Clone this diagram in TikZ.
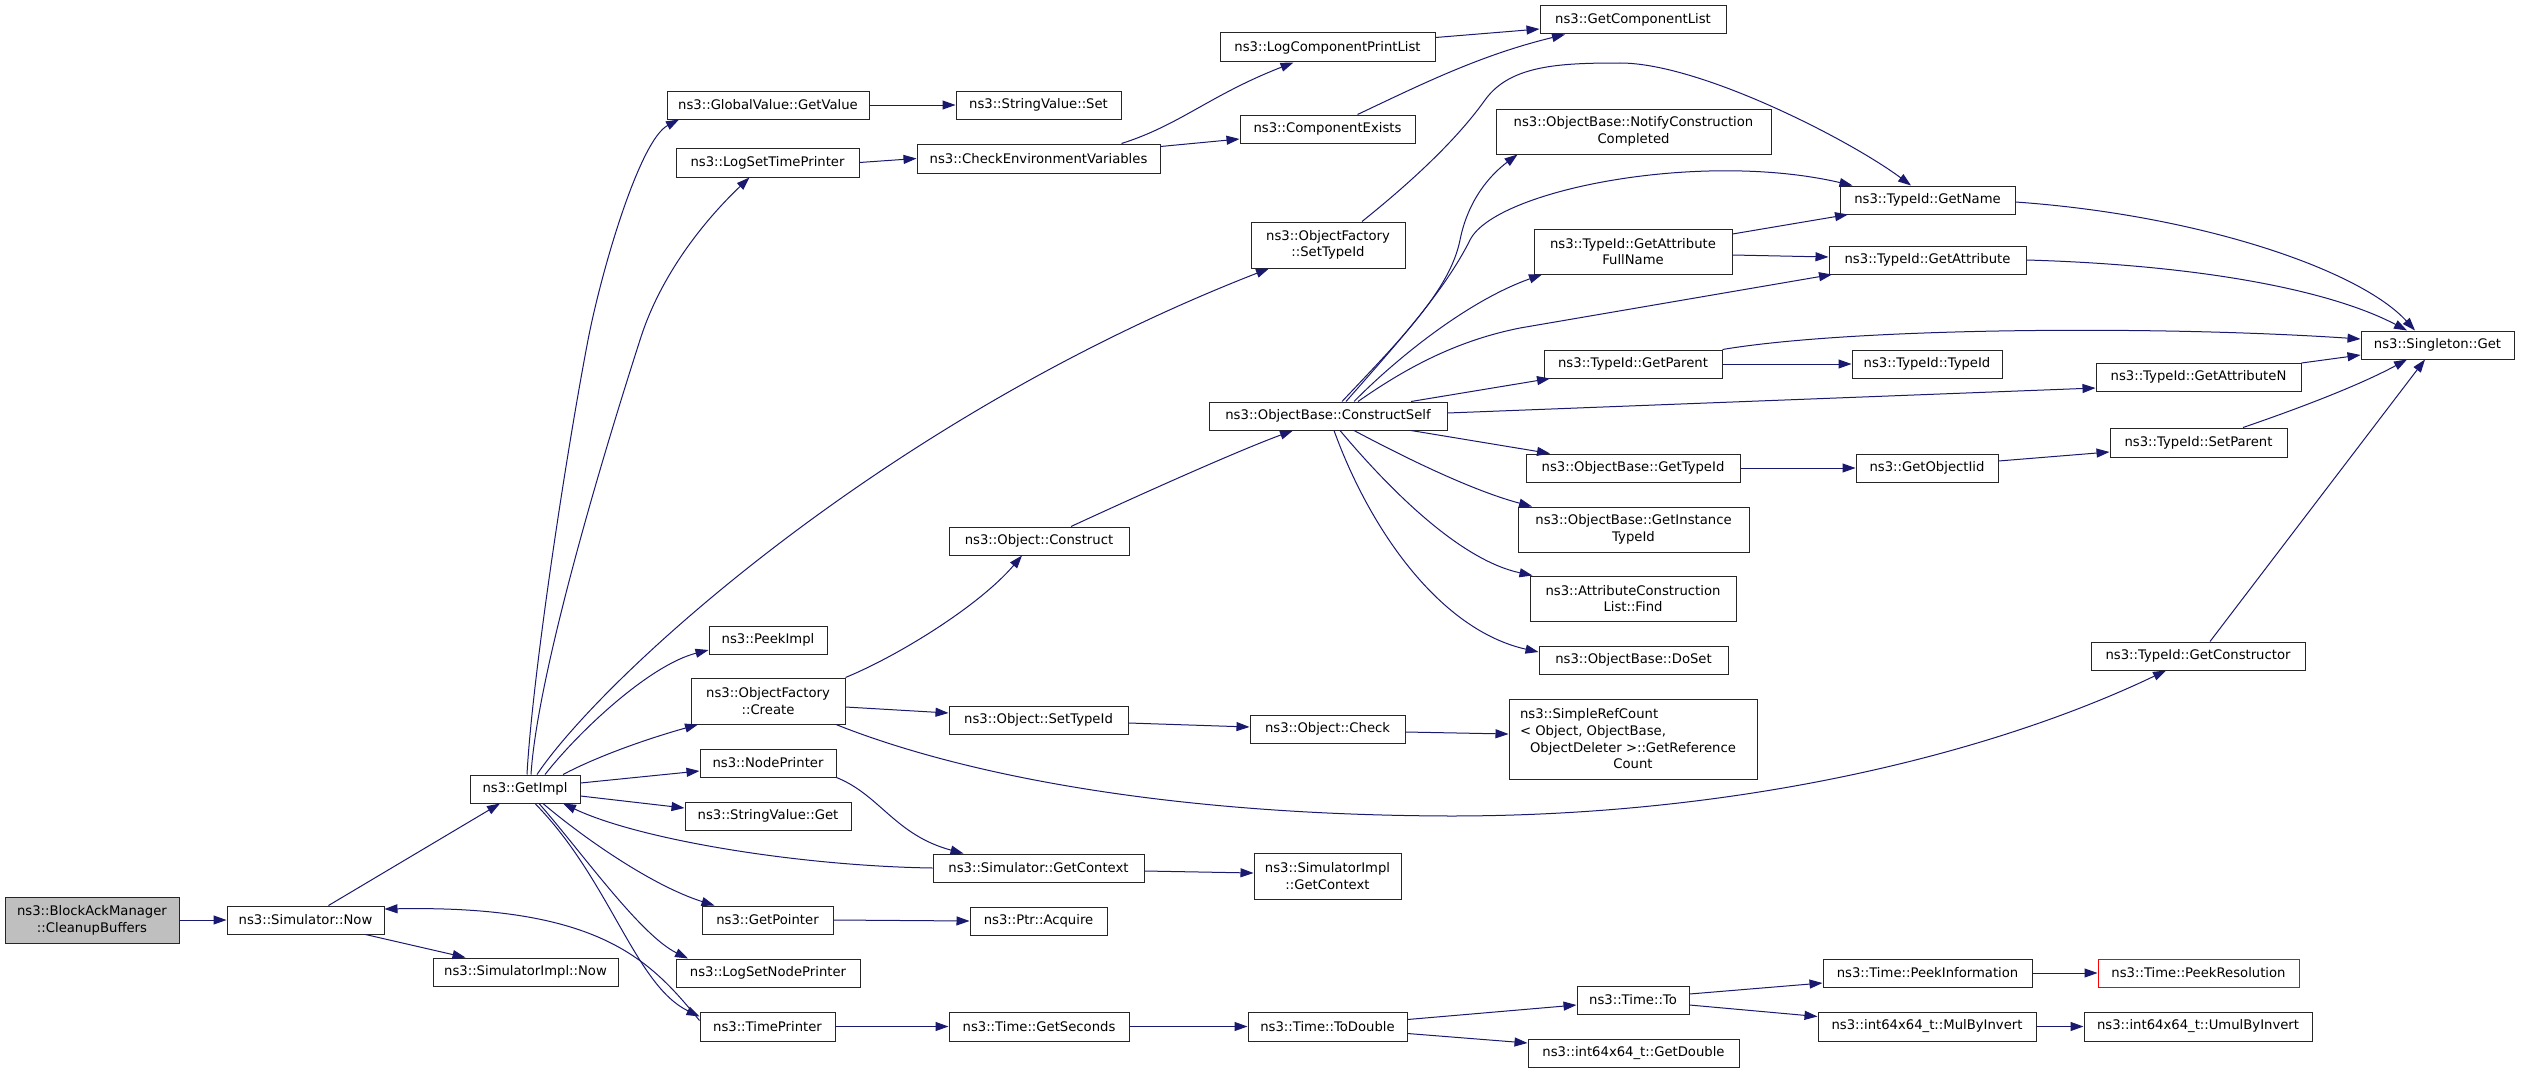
\documentclass[tikz,border=0pt]{standalone}
\usepackage{fontspec}
\setmainfont{DejaVu Sans}
\usetikzlibrary{arrows.meta}
\definecolor{edgecol}{HTML}{191970}
\definecolor{grayfill}{HTML}{BFBFBF}
\newcommand\bx[7][]{%
 \pgfmathsetmacro\bxw{#5-#3}\pgfmathsetmacro\bxh{#6-#4}%
 \pgfmathsetmacro\bxx{(#3+#5)/2}\pgfmathsetmacro\bxy{(#4+#6)/2}%
 \node[box,#1,minimum width=\bxw pt,minimum height=\bxh pt] (#2) at (\bxx,\bxy) {#7};}
\begin{document}
\begin{tikzpicture}[x=1pt,y=-1pt,
 box/.style={draw=black!85,fill=white,line width=1pt,inner sep=0pt,align=center,font=\fontsize{13.2}{16.7}\selectfont},
 e/.style={draw=edgecol,line width=1pt,-{Triangle[length=13pt,width=9pt]}}]
\fill[white] (0,0) rectangle (2523,1073);
\useasboundingbox (0,0) rectangle (2523,1073);
% nodes
\bx[fill=grayfill]{bam}{5}{897}{179}{943}{ns3::BlockAckManager\\::CleanupBuffers}
\bx{snow}{227}{906}{384}{934}{ns3::Simulator::Now}
\bx{gimpl}{470}{775}{580}{803}{ns3::GetImpl}
\bx{simpnow}{433}{958}{618}{986}{ns3::SimulatorImpl::Now}
\bx{gvget}{667}{91}{869}{119}{ns3::GlobalValue::GetValue}
\bx{svset}{956}{91}{1121}{119}{ns3::StringValue::Set}
\bx{lstp}{676}{148}{859}{177}{ns3::LogSetTimePrinter}
\bx{cev}{917}{144}{1160}{173}{ns3::CheckEnvironmentVariables}
\bx{lcpl}{1220}{33}{1435}{62}{ns3::LogComponentPrintList}
\bx{gcl}{1540}{6}{1726}{34}{ns3::GetComponentList}
\bx{cex}{1240}{115}{1415}{143}{ns3::ComponentExists}
\bx{ofst}{1251}{222}{1405}{268}{ns3::ObjectFactory\\::SetTypeId}
\bx{ncc}{1496}{109}{1771}{154}{ns3::ObjectBase::NotifyConstruction\\Completed}
\bx{gafn}{1534}{229}{1732}{274}{ns3::TypeId::GetAttribute\\FullName}
\bx{gname}{1840}{186}{2015}{214}{ns3::TypeId::GetName}
\bx{gattr}{1829}{246}{2026}{274}{ns3::TypeId::GetAttribute}
\bx{sget}{2361}{331}{2514}{359}{ns3::Singleton::Get}
\bx{gpar}{1544}{350}{1722}{378}{ns3::TypeId::GetParent}
\bx{tid}{1852}{350}{2002}{378}{ns3::TypeId::TypeId}
\bx{gattrn}{2096}{363}{2301}{391}{ns3::TypeId::GetAttributeN}
\bx{cself}{1209}{402}{1447}{430}{ns3::ObjectBase::ConstructSelf}
\bx{obgtid}{1526}{454}{1740}{482}{ns3::ObjectBase::GetTypeId}
\bx{goiid}{1856}{454}{1998}{482}{ns3::GetObjectIid}
\bx{spar}{2110}{428}{2287}{457}{ns3::TypeId::SetParent}
\bx{gitid}{1518}{507}{1749}{552}{ns3::ObjectBase::GetInstance\\TypeId}
\bx{acl}{1530}{576}{1736}{621}{ns3::AttributeConstruction\\List::Find}
\bx{doset}{1539}{646}{1728}{674}{ns3::ObjectBase::DoSet}
\bx{gctor}{2091}{642}{2305}{670}{ns3::TypeId::GetConstructor}
\bx{ocons}{949}{527}{1129}{555}{ns3::Object::Construct}
\bx{peek}{709}{626}{827}{654}{ns3::PeekImpl}
\bx{ofc}{691}{678}{845}{724}{ns3::ObjectFactory\\::Create}
\bx{ostid}{949}{706}{1128}{734}{ns3::Object::SetTypeId}
\bx{ochk}{1250}{715}{1405}{743}{ns3::Object::Check}
\bx{src}{1509}{699}{1757}{779}{\makebox[226pt][l]{ns3::SimpleRefCount}\\\makebox[226pt][l]{< Object, ObjectBase,}\\ObjectDeleter >::GetReference\\Count}
\bx{nprn}{700}{749}{836}{777}{ns3::NodePrinter}
\bx{svget}{685}{802}{851}{830}{ns3::StringValue::Get}
\bx{sgctx}{933}{854}{1144}{882}{ns3::Simulator::GetContext}
\bx{sigctx}{1254}{853}{1401}{899}{ns3::SimulatorImpl\\::GetContext}
\bx{gptr}{702}{906}{833}{934}{ns3::GetPointer}
\bx{acq}{970}{907}{1107}{935}{ns3::Ptr::Acquire}
\bx{lsnp}{676}{959}{860}{987}{ns3::LogSetNodePrinter}
\bx{tprn}{700}{1012}{835}{1041}{ns3::TimePrinter}
\bx{gsec}{949}{1012}{1129}{1041}{ns3::Time::GetSeconds}
\bx{todbl}{1248}{1012}{1407}{1041}{ns3::Time::ToDouble}
\bx{to}{1577}{986}{1689}{1014}{ns3::Time::To}
\bx{gdbl}{1528}{1039}{1739}{1067}{ns3::int64x64\_t::GetDouble}
\bx{pinfo}{1823}{959}{2032}{987}{ns3::Time::PeekInformation}
\bx[draw=red]{pres}{2098}{959}{2299}{987}{ns3::Time::PeekResolution}
\bx{mbi}{1818}{1012}{2036}{1041}{ns3::int64x64\_t::MulByInvert}
\bx{umbi}{2084}{1012}{2312}{1041}{ns3::int64x64\_t::UmulByInvert}
% edges
\draw[e] (bam.east) -- (snow.west);
\draw[e] ([xshift=23pt]snow.north) -- ([xshift=-25pt]gimpl.south);
\draw[e] ([xshift=60pt]snow.south) -- ([xshift=-60pt]simpnow.north);
\draw[e] ([xshift=2pt]gimpl.north) .. controls (532,680) and (565,460) .. (588,340) .. controls (602,268) and (640,140) .. ([xshift=-89pt]gvget.south);
\draw[e] ([xshift=6pt]gimpl.north) .. controls (537,680) and (595,480) .. (640,340) .. controls (662,270) and (710,215) .. ([xshift=-18pt]lstp.south);
\draw[e] ([xshift=12pt]gimpl.north) .. controls (600,680) and (880,420) .. ([xshift=-59pt]ofst.south);
\draw[e] ([xshift=20pt]gimpl.north) .. controls (580,730) and (650,665) .. ([yshift=-10pt]peek.west);
\draw[e] ([xshift=38pt]gimpl.north) .. controls (600,755) and (650,738) .. ([xshift=-70pt]ofc.south);
\draw[e] ([yshift=6pt]gimpl.east) -- ([yshift=-8pt]nprn.west);
\draw[e] ([yshift=-7pt]gimpl.east) -- ([yshift=8pt]svget.west);
\draw[e] (sgctx.west) .. controls (800,866) and (640,840) .. ([xshift=38pt]gimpl.south);
\draw[e] ([xshift=18pt]gimpl.south) .. controls (580,835) and (650,885) .. ([xshift=-53pt]gptr.north);
\draw[e] ([xshift=14pt]gimpl.south) .. controls (580,850) and (640,935) .. ([xshift=-80pt]lsnp.north);
\draw[e] ([xshift=10pt]gimpl.south) .. controls (610,880) and (635,985) .. ([yshift=10pt]tprn.west);
\draw[e] ([yshift=6pt]tprn.west) .. controls (650,960) and (600,905) .. ([yshift=11pt]snow.east);
\draw[e] (ofc.north east) .. controls (900,655) and (980,605) .. ([xshift=-17pt]ocons.south);
\draw[e] ([yshift=-6pt]ofc.east) -- ([yshift=7pt]ostid.west);
\draw[e] ([xshift=68pt]ofc.south) .. controls (950,770) and (1150,815) .. (1450,816) .. controls (1750,816) and (2000,750) .. ([xshift=-32pt]gctor.south);
\draw[e] ([yshift=-3pt]ostid.east) -- ([yshift=2pt]ochk.west);
\draw[e] ([yshift=-3pt]ochk.east) -- ([yshift=5pt]src.west);
\draw[e] (nprn.south east) .. controls (880,795) and (895,835) .. ([xshift=-75pt]sgctx.north);
\draw[e] ([yshift=-3pt]sgctx.east) -- ([yshift=3pt]sigctx.west);
\draw[e] (gptr.east) -- (acq.west);
\draw[e] (tprn.east) -- (gsec.west);
\draw[e] (gsec.east) -- (todbl.west);
\draw[e] ([yshift=7pt]todbl.east) -- ([yshift=-5pt]to.west);
\draw[e] ([yshift=-7pt]todbl.east) -- ([yshift=10pt]gdbl.west);
\draw[e] ([yshift=6pt]to.east) -- ([yshift=-10pt]pinfo.west);
\draw[e] ([yshift=-5pt]to.east) -- ([yshift=10pt]mbi.west);
\draw[e] (pinfo.east) -- (pres.west);
\draw[e] (mbi.east) -- (umbi.west);
\draw[e] ([xshift=32pt]ocons.north) .. controls (1150,490) and (1240,450) .. ([xshift=-35pt]cself.south);
\draw[e] (gvget.east) -- (svset.west);
\draw[e] (lstp.east) -- (cev.west);
\draw[e] ([xshift=83pt]cev.north) .. controls (1180,125) and (1210,95) .. ([xshift=-34pt]lcpl.south);
\draw[e] ([yshift=12pt]cev.east) -- ([yshift=-10pt]cex.west);
\draw[e] ([yshift=10pt]lcpl.east) -- ([yshift=-9pt]gcl.west);
\draw[e] ([xshift=30pt]cex.north) .. controls (1420,85) and (1480,55) .. ([xshift=-68pt]gcl.south);
\draw[e] ([xshift=34pt]ofst.north) .. controls (1420,175) and (1460,135) .. (1485,100) .. controls (1510,65) and (1560,63) .. (1620,63) .. controls (1700,63) and (1850,140) .. ([xshift=-16.5pt]gname.north);
\draw[e] ([xshift=14pt]cself.north) .. controls (1400,340) and (1450,290) .. (1460,240) .. controls (1468,200) and (1490,175) .. ([xshift=-116pt]ncc.south);
\draw[e] ([xshift=18pt]cself.north) .. controls (1400,340) and (1445,290) .. (1470,240) .. controls (1495,190) and (1700,150) .. ([xshift=-75pt]gname.north);
\draw[e] ([xshift=26pt]cself.north) .. controls (1400,355) and (1470,300) .. ([xshift=-91pt]gafn.south);
\draw[e] ([xshift=30pt]cself.north) .. controls (1410,365) and (1460,340) .. (1520,328) -- ([xshift=-95.5pt]gattr.south);
\draw[e] ([xshift=83pt]cself.north) -- ([xshift=-83pt]gpar.south);
\draw[e] ([yshift=3pt]cself.east) -- ([yshift=-11pt]gattrn.west);
\draw[e] ([xshift=83pt]cself.south) -- ([xshift=-83pt]obgtid.north);
\draw[e] ([xshift=26pt]cself.south) .. controls (1400,455) and (1470,490) .. ([xshift=-101.5pt]gitid.north);
\draw[e] ([xshift=12pt]cself.south) .. controls (1390,490) and (1460,560) .. ([xshift=3pt]acl.north west);
\draw[e] ([xshift=6pt]cself.south) .. controls (1370,530) and (1440,630) .. ([yshift=8pt]doset.west);
\draw[e] ([yshift=17.5pt]gafn.east) -- ([xshift=-79.5pt]gname.south);
\draw[e] ([yshift=-3.5pt]gafn.east) -- ([yshift=3pt]gattr.west);
\draw[e] ([yshift=-2pt]gname.east) .. controls (2200,215) and (2360,270) .. ([xshift=-22.5pt]sget.north);
\draw[e] (gattr.east) .. controls (2200,265) and (2330,290) .. ([xshift=-30.5pt]sget.north);
\draw[e] (gpar.north east) .. controls (1850,328) and (2150,325) .. ([yshift=6pt]sget.west);
\draw[e] (gpar.east) -- (tid.west);
\draw[e] ([yshift=14pt]gattrn.east) -- ([yshift=-10pt]sget.west);
\draw[e] ([xshift=44.5pt]spar.north) .. controls (2300,408) and (2360,385) .. ([xshift=-30.5pt]sget.south);
\draw[e] ([xshift=12pt]gctor.north) -- ([xshift=-12.5pt]sget.south);
\draw[e] (obgtid.east) -- (goiid.west);
\draw[e] ([yshift=7pt]goiid.east) -- ([yshift=-9.5pt]spar.west);
\end{tikzpicture}
\end{document}
